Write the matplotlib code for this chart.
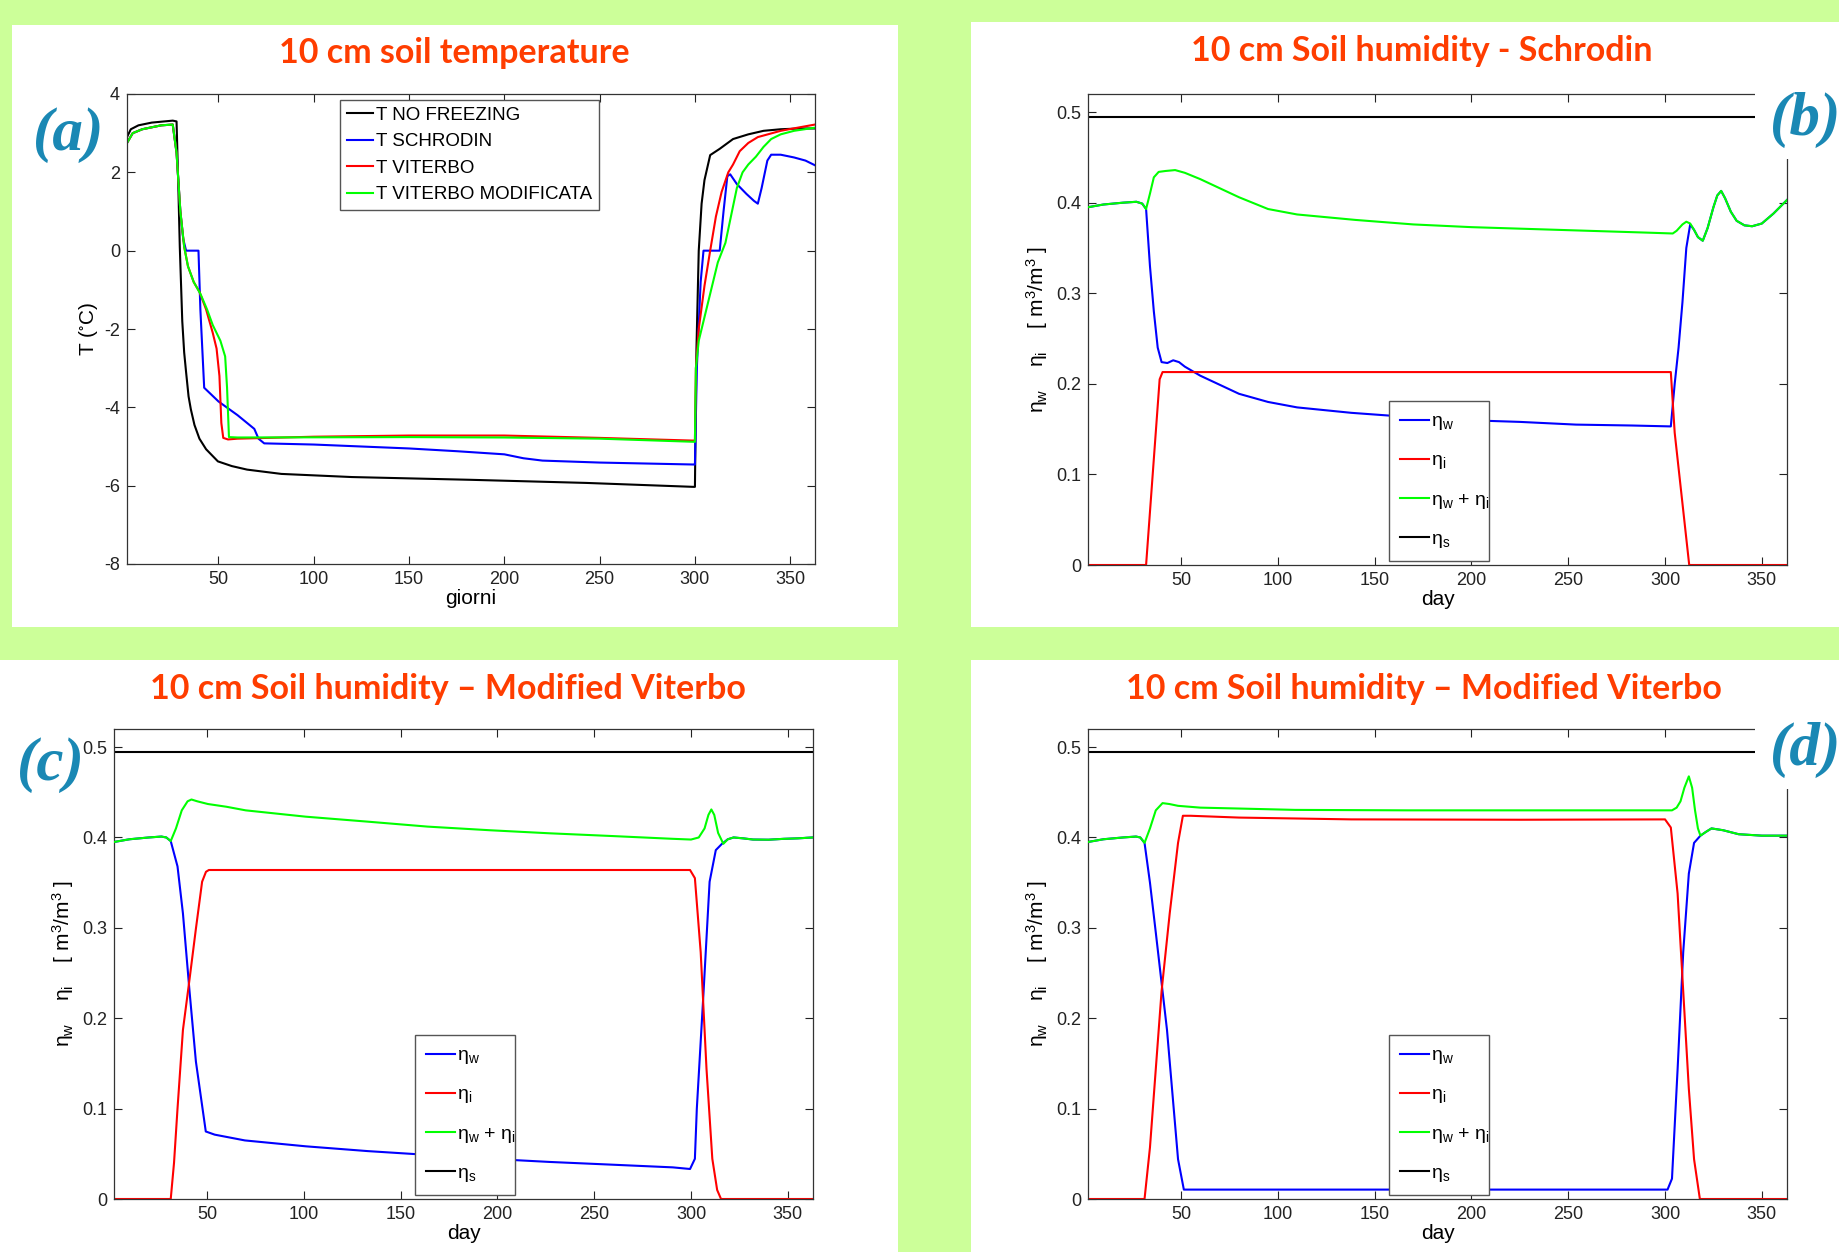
import matplotlib
matplotlib.use("Agg")
import matplotlib.pyplot as plt
from matplotlib.patches import Rectangle

plt.rcParams['font.family'] = ['Liberation Sans', 'DejaVu Sans']
plt.rcParams['mathtext.default'] = 'regular'
plt.rcParams['axes.unicode_minus'] = False

W, H = 1839, 1252

# ---------------- data ----------------
# (a) 10 cm soil temperature
a_nofrz_day = [2, 4, 8, 15, 26, 28, 29, 29.7, 31, 32, 33, 34.3, 35.5, 37.4, 40, 43.5, 49.7, 57, 65, 83,
               120, 182, 243, 299, 300, 300.8, 302, 303.5, 305, 308, 313, 320, 328, 336, 345, 355, 363]
a_nofrz_T = [2.9, 3.1, 3.2, 3.27, 3.32, 3.3, 1.5, 0.1, -1.8, -2.6, -3.1, -3.72, -4.05, -4.45, -4.8, -5.07,
             -5.38, -5.5, -5.59, -5.7, -5.78, -5.85, -5.93, -6.03, -6.03, -2.5, 0.0, 1.2, 1.8, 2.44, 2.6,
             2.85, 2.97, 3.06, 3.1, 3.12, 3.12]

a_schr_day = [2, 5, 10, 20, 26, 28, 30, 31.5, 33, 39.5, 40.5, 42.5, 50, 60, 68.8, 71, 74, 100, 150, 175,
              200, 210, 220, 250, 299.5, 300, 301, 303, 304.5, 313, 315, 317, 318.5, 322, 327, 331, 333,
              335, 338, 340, 345, 352, 358, 363]
a_schr_T = [2.75, 3.0, 3.1, 3.2, 3.22, 2.5, 1.0, 0.3, 0.0, 0.0, -1.5, -3.5, -3.85, -4.2, -4.55, -4.8,
            -4.92, -4.95, -5.05, -5.12, -5.2, -5.3, -5.36, -5.41, -5.46, -5.46, -3.0, -0.8, 0.0, 0.0,
            1.0, 1.9, 1.95, 1.7, 1.45, 1.27, 1.2, 1.6, 2.3, 2.45, 2.45, 2.38, 2.3, 2.18]

a_vit_day = [2, 5, 10, 20, 26, 28, 30, 32, 34, 37, 40, 43.5, 47, 49, 50.5, 51.5, 52.5, 55, 60, 100, 150,
             200, 250, 299.5, 300, 300.5, 302, 305, 308, 311, 314, 317.5, 320, 323.5, 328, 333, 345,
             355, 363]
a_vit_T = [2.75, 3.0, 3.1, 3.2, 3.22, 2.5, 1.0, 0.1, -0.4, -0.8, -1.05, -1.5, -2.1, -2.5, -3.2, -4.4,
           -4.78, -4.82, -4.8, -4.75, -4.72, -4.72, -4.78, -4.85, -4.85, -3.0, -2.0, -0.9, 0.0, 0.87,
           1.5, 2.0, 2.2, 2.54, 2.75, 2.9, 3.06, 3.15, 3.22]

a_mod_day = [2, 5, 10, 20, 26, 28, 30, 32, 34, 37, 40.5, 44, 47, 51, 53.5, 54.5, 55.5, 60, 150, 200,
             250, 299.5, 300, 300.5, 302, 305, 308, 312, 316, 319, 322, 325, 328, 332, 336, 340, 345,
             352, 363]
a_mod_T = [2.75, 3.0, 3.1, 3.2, 3.22, 2.5, 1.0, 0.1, -0.4, -0.8, -1.1, -1.5, -1.9, -2.3, -2.7, -3.5,
           -4.76, -4.77, -4.76, -4.77, -4.8, -4.88, -4.88, -3.0, -2.3, -1.7, -1.1, -0.3, 0.2, 0.9, 1.6,
           2.0, 2.2, 2.4, 2.65, 2.85, 2.97, 3.06, 3.14]

# (b) Schrodin
b_tot_day = [2, 10, 20, 27, 30, 32, 34, 36, 38.5, 42, 47, 52, 60, 70, 80, 95, 110, 140, 170, 200, 230,
             260, 290, 304, 306, 309, 311, 313, 315, 317, 319.5, 322, 325, 327, 329, 331, 334, 337,
             341, 345, 350, 356, 363]
b_tot = [0.395, 0.398, 0.4, 0.401, 0.399, 0.393, 0.41, 0.428, 0.434, 0.435, 0.436, 0.433, 0.426, 0.416,
         0.406, 0.393, 0.387, 0.381, 0.376, 0.373, 0.371, 0.369, 0.367, 0.366, 0.369, 0.376, 0.379,
         0.377, 0.37, 0.362, 0.358, 0.372, 0.395, 0.408, 0.413, 0.405, 0.39, 0.38, 0.375, 0.374, 0.377,
         0.388, 0.403]
b_w_day = [2, 10, 20, 27, 30, 32, 34, 36, 38, 40, 43, 46, 49, 52, 60, 66, 80, 95, 110, 138, 167, 196,
           225, 254, 283, 303, 305, 307, 309, 311, 313, 315, 317, 319.5, 322, 325, 327, 329, 331, 334,
           337, 341, 345, 350, 356, 363]
b_w = [0.395, 0.398, 0.4, 0.401, 0.399, 0.393, 0.33, 0.28, 0.24, 0.224, 0.223, 0.226, 0.224, 0.219,
       0.209, 0.203, 0.189, 0.18, 0.174, 0.168, 0.1635, 0.16, 0.158, 0.155, 0.154, 0.153, 0.2, 0.24,
       0.29, 0.35, 0.376, 0.37, 0.362, 0.358, 0.372, 0.395, 0.408, 0.413, 0.405, 0.39, 0.38, 0.375,
       0.374, 0.377, 0.388, 0.403]
b_i_day = [2, 32, 39, 40.5, 303, 305, 312.5, 363]
b_i = [0, 0, 0.205, 0.213, 0.213, 0.146, 0, 0]

# (c) Modified Viterbo
c_tot_day = [2, 10, 20, 26.5, 29, 31.3, 34, 37, 40, 42, 45, 50.5, 60, 70, 101, 133, 164, 196, 227, 259,
             290.6, 300, 304, 307, 309, 310.5, 312, 314, 316.7, 319, 322, 327, 332, 340, 348, 355, 363]
c_tot = [0.395, 0.398, 0.4, 0.401, 0.4, 0.396, 0.41, 0.43, 0.44, 0.442, 0.44, 0.437, 0.434, 0.43,
         0.423, 0.4175, 0.412, 0.408, 0.4046, 0.4016, 0.3985, 0.3977, 0.4, 0.41, 0.425, 0.431, 0.425,
         0.405, 0.393, 0.398, 0.4, 0.399, 0.3977, 0.3975, 0.3985, 0.399, 0.4]
c_w_day = [2, 10, 20, 26.5, 29, 31.3, 34.8, 37.6, 41, 44.3, 49.4, 54, 69.6, 101, 133, 164, 196, 227,
           259, 290.6, 299.5, 302, 303, 306.5, 309.6, 312.8, 316, 319, 322, 327, 332, 340, 348, 355, 363]
c_w = [0.395, 0.398, 0.4, 0.401, 0.4, 0.396, 0.368, 0.316, 0.23, 0.152, 0.0747, 0.0712, 0.0648,
       0.0583, 0.053, 0.0488, 0.0445, 0.041, 0.038, 0.035, 0.0332, 0.0445, 0.1, 0.23, 0.351, 0.386,
       0.393, 0.398, 0.4, 0.399, 0.3977, 0.3975, 0.3985, 0.399, 0.4]
c_i_day = [2, 31.3, 33, 34.8, 37.6, 41, 44.3, 47.5, 49.5, 51, 299.5, 302, 305, 308, 311, 313.5, 315.5, 363]
c_i = [0, 0, 0.04, 0.1, 0.187, 0.243, 0.299, 0.351, 0.362, 0.364, 0.364, 0.355, 0.273, 0.144, 0.0445,
       0.01, 0, 0]

# (d) Modified Viterbo
d_tot_day = [2, 10, 20, 26.8, 29, 31.2, 34, 37, 40.5, 44, 48.5, 60, 80, 109, 167, 225, 303.6, 306, 308,
             310, 312.3, 314, 315.5, 317, 318.3, 321, 324, 330, 338, 350, 363]
d_tot = [0.395, 0.398, 0.4, 0.401, 0.4, 0.394, 0.41, 0.43, 0.438, 0.437, 0.435, 0.433, 0.432, 0.4305,
         0.43, 0.43, 0.43, 0.433, 0.44, 0.455, 0.4676, 0.455, 0.43, 0.41, 0.402, 0.406, 0.41, 0.408,
         0.4036, 0.402, 0.402]
d_w_day = [2, 10, 20, 26.8, 29, 31.2, 34, 37, 42.8, 48.5, 51.5, 301.3, 303.6, 306.5, 309.4, 312.3, 315,
           318.3, 321, 324, 330, 338, 350, 363]
d_w = [0.395, 0.398, 0.4, 0.401, 0.4, 0.394, 0.35, 0.295, 0.187, 0.044, 0.0104, 0.0104, 0.0225, 0.1435,
       0.273, 0.36, 0.394, 0.402, 0.406, 0.41, 0.408, 0.4036, 0.402, 0.402]
d_i_day = [2, 31.2, 34, 37, 40, 44.2, 48.5, 51, 55, 80, 138, 225, 300, 303, 306.5, 309.4, 312.3, 315,
           318, 363]
d_i = [0, 0, 0.057, 0.1435, 0.23, 0.316, 0.394, 0.424, 0.424, 0.422, 0.42, 0.4196, 0.42, 0.411, 0.338,
       0.23, 0.122, 0.044, 0, 0]

sat_day = [2, 363]
sat = [0.495, 0.495]

a_labels = ['T NO FREEZING', 'T SCHRODIN', 'T VITERBO', 'T VITERBO MODIFICATA']
eta_labels = [r'$\eta_w$', r'$\eta_i$', r'$\eta_w$ + $\eta_i$', r'$\eta_s$']
titles = ['10 cm soil temperature', '10 cm Soil humidity - Schrodin',
          '10 cm Soil humidity \u2013 Modified Viterbo', '10 cm Soil humidity \u2013 Modified Viterbo']
panel_tags = ['(a)', '(b)', '(c)', '(d)']
x_ticks = [50, 100, 150, 200, 250, 300, 350]
eta_ticks = [0, 0.1, 0.2, 0.3, 0.4, 0.5]
eta_ticklabels = ['0', '0.1', '0.2', '0.3', '0.4', '0.5']

BG = '#CCFF99'
TITLE_C = '#FF3D00'
TAG_C = '#1A88B4'
GREEN = '#00FF00'


def px_rect(x0, x1, ytop, ybot):
    return [x0 / W, 1 - ybot / H, (x1 - x0) / W, (ybot - ytop) / H]


fig = plt.figure(figsize=(W / 100, H / 100), dpi=100, facecolor=BG)

# white panels
for x0, x1, yt, yb in [(12, 898, 25, 627), (971, 1839, 22, 627), (0, 898, 660, 1252), (971, 1839, 660, 1252)]:
    fig.patches.append(Rectangle((x0 / W, 1 - yb / H), (x1 - x0) / W, (yb - yt) / H,
                                 transform=fig.transFigure, facecolor='white', edgecolor='none', zorder=-1))


def style_axes(ax):
    ax.set_xlim(2, 363)
    ax.set_xticks(x_ticks)
    ax.tick_params(direction='in', length=6, width=0.8, top=True, right=True, labelsize=13,
                   colors='#222222', pad=5)
    for s in ax.spines.values():
        s.set_color('#333333')
        s.set_linewidth(0.9)


lw = 1.5

# (a)
axa = fig.add_axes(px_rect(127, 815, 94, 564))
axa.plot(a_nofrz_day, a_nofrz_T, color='black', lw=lw, label=a_labels[0])
axa.plot(a_schr_day, a_schr_T, color='blue', lw=lw, label=a_labels[1])
axa.plot(a_vit_day, a_vit_T, color='red', lw=lw, label=a_labels[2])
axa.plot(a_mod_day, a_mod_T, color=GREEN, lw=lw, label=a_labels[3])
style_axes(axa)
axa.set_ylim(-8, 4)
axa.set_yticks([-8, -6, -4, -2, 0, 2, 4])
axa.set_xlabel('giorni', fontsize=15, labelpad=1)
axa.set_ylabel(r'T ($^{\circ}$C)', fontsize=15, labelpad=3)
leg = axa.legend(loc='upper left', bbox_to_anchor=(0.31, 0.987), borderaxespad=0, fontsize=13.5,
                 handlelength=1.4, handletextpad=0.15, labelspacing=0.5, borderpad=0.35,
                 fancybox=False, framealpha=1, edgecolor='#555555')
leg.get_frame().set_linewidth(1.0)

eta_sets = [
    (px_rect(1088, 1787, 94, 565), b_w_day, b_w, b_i_day, b_i, b_tot_day, b_tot),
    (px_rect(114, 813, 729, 1199), c_w_day, c_w, c_i_day, c_i, c_tot_day, c_tot),
    (px_rect(1088, 1787, 729, 1199), d_w_day, d_w, d_i_day, d_i, d_tot_day, d_tot),
]
for rect, wd, wv, idy, iv, td, tv in eta_sets:
    ax = fig.add_axes(rect)
    ax.plot(wd, wv, color='blue', lw=lw, label=eta_labels[0], zorder=2)
    ax.plot(idy, iv, color='red', lw=lw, label=eta_labels[1], zorder=2)
    ax.plot(td, tv, color=GREEN, lw=lw, label=eta_labels[2], zorder=3)
    ax.plot(sat_day, sat, color='black', lw=lw, label=eta_labels[3], zorder=2)
    style_axes(ax)
    ax.set_ylim(0, 0.52)
    ax.set_yticks(eta_ticks)
    ax.set_yticklabels(eta_ticklabels)
    ax.set_xlabel('day', fontsize=15, labelpad=1)
    ax.set_ylabel(r'$\eta_w$    $\eta_i$    [ m$^3$/m$^3$ ]', fontsize=15, labelpad=4)
    lg = ax.legend(loc='lower left', bbox_to_anchor=(0.43, 0.008, 0.143, 0.345), mode='expand',
                   borderaxespad=0, fontsize=14, handlelength=1.5, handletextpad=0.1,
                   labelspacing=1.0, borderpad=0.6, fancybox=False, framealpha=1, edgecolor='#555555')
    lg.get_frame().set_linewidth(1.0)
    lg.set_zorder(5)

# titles
for (x, y), t in zip([(454, 53), (1422, 51), (448, 689), (1424, 689)], titles):
    fig.text(x / W, 1 - y / H, t, color=TITLE_C, fontsize=24.5, fontweight='bold', family='Lato',
             ha='center', va='center')

# white covers behind the (b) and (d) tags
for yt, yb in [(85, 159), (720, 789)]:
    fig.patches.append(Rectangle((1755 / W, 1 - yb / H), (W - 1755) / W, (yb - yt) / H,
                                 transform=fig.transFigure, facecolor='white', edgecolor='none', zorder=5))

tag_pos = [(33, 135), (1770, 120), (17, 765), (1770, 750)]
for (x, y), t in zip(tag_pos, panel_tags):
    fig.text(x / W, 1 - y / H, t, color=TAG_C, fontsize=44, fontweight='bold', fontstyle='italic',
             family='Liberation Serif', ha='left', va='center', zorder=6)

fig.savefig('out.png', dpi=100, facecolor=BG)
